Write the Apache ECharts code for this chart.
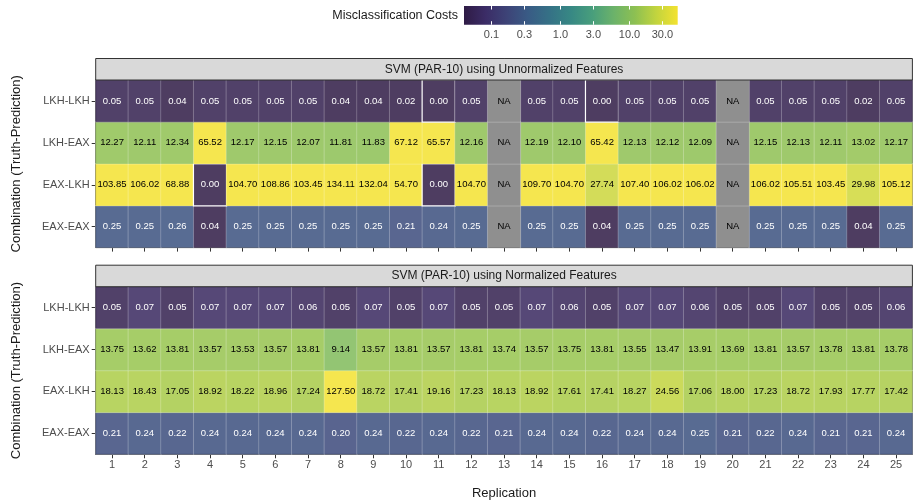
<!DOCTYPE html>
<html>
<head>
<meta charset="utf-8">
<script src="https://cdn.jsdelivr.net/npm/echarts@6/dist/echarts.min.js"></script>
<style>
  html, body { margin: 0; padding: 0; background: #ffffff; }
  #chart { width: 913px; height: 502px; }
</style>
</head>
<body>
<div id="chart"></div>
<script>
// Replication runs along x, truth-prediction combinations along y (bottom to top)
const replications = ['1','2','3','4','5','6','7','8','9','10','11','12','13','14','15','16','17','18','19','20','21','22','23','24','25'];
const combinations = ['EAX-EAX', 'EAX-LKH', 'LKH-EAX', 'LKH-LKH'];
const panelTitles = ['SVM (PAR-10) using Unnormalized Features', 'SVM (PAR-10) using Normalized Features'];

// Unnormalized features (null = NA)
const unnormLKHLKH = [0.05,0.05,0.04,0.05,0.05,0.05,0.05,0.04,0.04,0.02,0.00,0.05,null,0.05,0.05,0.00,0.05,0.05,0.05,null,0.05,0.05,0.05,0.02,0.05];
const unnormLKHEAX = [12.27,12.11,12.34,65.52,12.17,12.15,12.07,11.81,11.83,67.12,65.57,12.16,null,12.19,12.10,65.42,12.13,12.12,12.09,null,12.15,12.13,12.11,13.02,12.17];
const unnormEAXLKH = [103.85,106.02,68.88,0.00,104.70,108.86,103.45,134.11,132.04,54.70,0.00,104.70,null,109.70,104.70,27.74,107.40,106.02,106.02,null,106.02,105.51,103.45,29.98,105.12];
const unnormEAXEAX = [0.25,0.25,0.26,0.04,0.25,0.25,0.25,0.25,0.25,0.21,0.24,0.25,null,0.25,0.25,0.04,0.25,0.25,0.25,null,0.25,0.25,0.25,0.04,0.25];

// Normalized features
const normLKHLKH = [0.05,0.07,0.05,0.07,0.07,0.07,0.06,0.05,0.07,0.05,0.07,0.05,0.05,0.07,0.06,0.05,0.07,0.07,0.06,0.05,0.05,0.07,0.05,0.05,0.06];
const normLKHEAX = [13.75,13.62,13.81,13.57,13.53,13.57,13.81,9.14,13.57,13.81,13.57,13.81,13.74,13.57,13.75,13.81,13.55,13.47,13.91,13.69,13.81,13.57,13.78,13.81,13.78];
const normEAXLKH = [18.13,18.43,17.05,18.92,18.22,18.96,17.24,127.50,18.72,17.41,19.16,17.23,18.13,18.92,17.61,17.41,18.27,24.56,17.06,18.00,17.23,18.72,17.93,17.77,17.42];
const normEAXEAX = [0.21,0.24,0.22,0.24,0.24,0.24,0.24,0.20,0.24,0.22,0.24,0.22,0.21,0.24,0.24,0.22,0.24,0.24,0.25,0.21,0.22,0.24,0.21,0.21,0.24];

// Colour scale (log10, squished to the limits)
const costLimits = [0.04, 50];
const legendTicks = [0.1, 0.3, 1.0, 3.0, 10.0, 30.0];
const legendTickLabels = ['0.1', '0.3', '1.0', '3.0', '10.0', '30.0'];
// muted viridis ramp
const palette = ['#2f1b45','#3b2c66','#3d4377','#395b85','#357186','#378884','#489e7c','#6bb26a','#8dc052','#c2d43e','#f3e230'];

const FONT = 'Liberation Sans, Arial, Helvetica, sans-serif';
const lo = Math.log10(costLimits[0]);
const hi = Math.log10(costLimits[1]);
const CELL_ALPHA = 0.85;

function buildCells(rowsByComb) {
  const cells = [];
  const missing = [];
  combinations.forEach((comb, yi) => {
    rowsByComb[comb].forEach((v, xi) => {
      if (v === null) {
        missing.push({ value: [xi, yi, 0] });
        return;
      }
      const scaled = Math.min(hi, Math.max(lo, Math.log10(Math.max(v, 1e-9))));
      const item = {
        value: [xi, yi, scaled, v],
        label: { color: v < 1 ? '#ffffff' : '#000000' }
      };
      if (v === 0) item.itemStyle = { borderColor: '#ffffff', borderWidth: 1.2 };
      cells.push(item);
    });
  });
  return { cells, missing };
}

const panels = [
  buildCells({ 'LKH-LKH': unnormLKHLKH, 'LKH-EAX': unnormLKHEAX, 'EAX-LKH': unnormEAXLKH, 'EAX-EAX': unnormEAXEAX }),
  buildCells({ 'LKH-LKH': normLKHLKH, 'LKH-EAX': normLKHEAX, 'EAX-LKH': normEAXLKH, 'EAX-EAX': normEAXEAX })
];

const PANEL_LEFT = 95.7, PANEL_W = 816.7, PANEL_H = 167.6;
const panelTops = [80, 286.7];
const STRIP_H = 21.5;

const axisLineStyle = { color: '#333333', width: 1 };

const grids = panelTops.map(t => ({
  left: PANEL_LEFT, top: t, width: PANEL_W, height: PANEL_H,
  show: true, borderColor: '#333333', borderWidth: 1, backgroundColor: 'transparent'
}));
// colour bar
grids.push({
  left: 464, top: 6, width: 213.7, height: 18.7, show: true, borderWidth: 0,
  backgroundColor: new echarts.graphic.LinearGradient(0, 0, 1, 0,
    palette.map((c, i) => ({ offset: i / (palette.length - 1), color: c })))
});

const xAxes = panelTops.map((t, i) => ({
  type: 'category', gridIndex: i, data: replications,
  axisLine: { show: true, lineStyle: axisLineStyle },
  axisTick: { show: true, alignWithLabel: true, length: 4, lineStyle: axisLineStyle },
  axisLabel: { show: i === 1, color: '#4d4d4d', fontSize: 11, fontFamily: FONT, margin: 5 },
  splitLine: { show: false },
  name: i === 1 ? 'Replication' : '',
  nameLocation: 'middle', nameGap: 33,
  nameTextStyle: { color: '#1a1a1a', fontSize: 13, fontFamily: FONT }
}));
const logTickValues = legendTicks.map(v => Math.log10(v));
function legendLabel(val) {
  let best = 0;
  logTickValues.forEach((lv, i) => { if (Math.abs(lv - val) < Math.abs(logTickValues[best] - val)) best = i; });
  return legendTickLabels[best];
}
xAxes.push({
  type: 'value', gridIndex: 2, min: lo, max: hi, position: 'bottom',
  axisLine: { show: false },
  axisTick: { show: true, inside: true, length: 3.5, customValues: logTickValues, lineStyle: { color: '#ffffff', width: 1 } },
  axisLabel: { show: true, customValues: logTickValues, formatter: legendLabel, color: '#4d4d4d', fontSize: 11, fontFamily: FONT, margin: 5 },
  splitLine: { show: false }
});
xAxes.push({
  type: 'value', gridIndex: 2, min: lo, max: hi, position: 'top',
  axisLine: { show: false },
  axisTick: { show: true, inside: true, length: 3.5, customValues: logTickValues, lineStyle: { color: '#ffffff', width: 1 } },
  axisLabel: { show: false },
  splitLine: { show: false }
});

const yAxes = panelTops.map((t, i) => ({
  type: 'category', gridIndex: i, data: combinations,
  axisLine: { show: true, lineStyle: axisLineStyle },
  axisTick: { show: true, alignWithLabel: true, length: 4, lineStyle: axisLineStyle },
  axisLabel: { color: '#4d4d4d', fontSize: 11, fontFamily: FONT, margin: 6 },
  splitLine: { show: false },
  name: 'Combination (Truth-Prediction)',
  nameLocation: 'middle', nameGap: 73, nameRotate: 90,
  nameTextStyle: { color: '#1a1a1a', fontSize: 13, fontFamily: FONT }
}));
yAxes.push({ type: 'value', gridIndex: 2, show: false, min: 0, max: 1 });

const series = [];
panels.forEach((p, i) => {
  series.push({
    type: 'heatmap', xAxisIndex: i, yAxisIndex: i, data: p.cells,
    itemStyle: { borderColor: 'rgba(255,255,255,0.45)', borderWidth: 0.6 },
    label: { show: true, fontSize: 9.5, fontFamily: FONT, formatter: d => d.value[3].toFixed(2) },
    emphasis: { disabled: true }
  });
});
panels.forEach((p, i) => {
  series.push({
    type: 'heatmap', xAxisIndex: i, yAxisIndex: i, data: p.missing,
    itemStyle: { color: 'rgba(127,127,127,0.88)', borderColor: 'rgba(255,255,255,0.45)', borderWidth: 0.6 },
    label: { show: true, fontSize: 9.5, fontFamily: FONT, color: '#000000', formatter: 'NA' },
    emphasis: { disabled: true }
  });
});

const graphics = [];
panelTops.forEach((t, i) => {
  graphics.push({
    type: 'rect', z: 10,
    shape: { x: PANEL_LEFT, y: t - STRIP_H, width: PANEL_W, height: STRIP_H },
    style: { fill: '#d9d9d9', stroke: '#333333', lineWidth: 1 }
  });
  graphics.push({
    type: 'text', z: 11,
    x: PANEL_LEFT + PANEL_W / 2, y: t - STRIP_H / 2,
    style: { text: panelTitles[i], fill: '#1a1a1a', font: '12px ' + FONT, align: 'center', verticalAlign: 'middle' }
  });
});
graphics.push({
  type: 'text', z: 11, x: 458, y: 15.5,
  style: { text: 'Misclassification Costs', fill: '#1a1a1a', font: '12.5px ' + FONT, align: 'right', verticalAlign: 'middle' }
});

const chart = echarts.init(document.getElementById('chart'), null, { renderer: 'canvas' });
chart.setOption({
  backgroundColor: '#ffffff',
  animation: false,
  textStyle: { fontFamily: FONT },
  grid: grids,
  xAxis: xAxes,
  yAxis: yAxes,
  visualMap: {
    type: 'continuous', show: false, seriesIndex: [0, 1], dimension: 2,
    min: lo, max: hi,
    inRange: { color: palette, colorAlpha: CELL_ALPHA }
  },
  series: series,
  graphic: graphics
});
</script>
</body>
</html>
